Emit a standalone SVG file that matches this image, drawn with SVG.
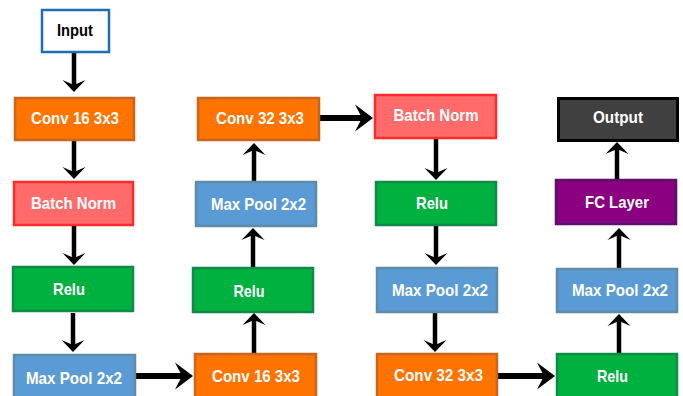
<svg xmlns="http://www.w3.org/2000/svg" width="683" height="396" viewBox="0 0 683 396">
<defs>
<style>
.box{stroke-width:2.5}
.conv{fill:#FF7300;stroke:#C8661E}
.bn{fill:#FF6B6B;stroke:#FF2B2B}
.relu{fill:#00B140;stroke:#108A48}
.pool{fill:#5B9BD5;stroke:#5D8BA8}
.fc{fill:#8B0080;stroke:#5B1070}
.out{fill:#404040;stroke:#000;stroke-width:3}
.in{fill:#fff;stroke:#1F6EB5}
text{font-family:"Liberation Sans",Arial,sans-serif;font-weight:bold;font-size:17px;fill:#fff;text-anchor:middle}
.dark{fill:#000}
.v{stroke:#000;stroke-width:4.5;fill:none;marker-end:url(#hv)}
.h{stroke:#000;stroke-width:6;fill:none;marker-end:url(#hh)}
</style>
<marker id="hv" markerUnits="userSpaceOnUse" viewBox="0 -12 13 24" markerWidth="13" markerHeight="24" refX="5" refY="0" orient="auto">
<path d="M0,-11.5 L12,0 L0,11.5 L5,0 Z" fill="#000"/>
</marker>
<marker id="hh" markerUnits="userSpaceOnUse" viewBox="0 -14 19 28" markerWidth="19" markerHeight="28" refX="7" refY="0" orient="auto">
<path d="M0,-13.5 L18,0 L0,13.5 L7,0 Z" fill="#000"/>
</marker>
</defs>
<g id="connectors">
<line class="v" x1="74" y1="53" x2="74" y2="85"/>
<line class="v" x1="74" y1="141" x2="74" y2="172"/>
<line class="v" x1="74" y1="226" x2="74" y2="258"/>
<line class="v" x1="73" y1="313" x2="73" y2="345"/>
<line class="h" x1="136" y1="376" x2="182" y2="376"/>
<line class="v" x1="254" y1="353" x2="254" y2="320"/>
<line class="v" x1="253" y1="267" x2="253" y2="235"/>
<line class="v" x1="254" y1="181" x2="254" y2="150"/>
<line class="h" x1="320" y1="118" x2="362" y2="118"/>
<line class="v" x1="436" y1="139" x2="436" y2="173"/>
<line class="v" x1="436" y1="226" x2="436" y2="258"/>
<line class="v" x1="435" y1="313" x2="435" y2="345"/>
<line class="h" x1="498" y1="376" x2="544" y2="376"/>
<line class="v" x1="619" y1="353" x2="619" y2="321"/>
<line class="v" x1="619" y1="268" x2="619" y2="235"/>
<line class="v" x1="617" y1="179" x2="617" y2="149"/>
</g>
<g id="input"><rect class="box in" x="42" y="10" width="67" height="42"/><text class="dark" x="75" y="36" textLength="36" lengthAdjust="spacingAndGlyphs">Input</text></g>
<g id="conv16a"><rect class="box conv" x="15" y="98" width="119" height="42"/><text x="75" y="124" textLength="88" lengthAdjust="spacingAndGlyphs">Conv 16 3x3</text></g>
<g id="bn1"><rect class="box bn" x="14" y="182" width="119" height="43"/><text x="73.5" y="208.5" textLength="85" lengthAdjust="spacingAndGlyphs">Batch Norm</text></g>
<g id="relu1"><rect class="box relu" x="13" y="267" width="120" height="44"/><text x="69" y="295" textLength="32" lengthAdjust="spacingAndGlyphs">Relu</text></g>
<g id="pool1"><rect class="box pool" x="14" y="355" width="121" height="44"/><text x="74" y="383.5" textLength="96" lengthAdjust="spacingAndGlyphs">Max Pool 2x2</text></g>
<g id="conv16b"><rect class="box conv" x="195" y="354" width="121" height="44"/><text x="256" y="382" textLength="88" lengthAdjust="spacingAndGlyphs">Conv 16 3x3</text></g>
<g id="relu2"><rect class="box relu" x="193" y="268" width="120" height="44"/><text x="249" y="297" textLength="31" lengthAdjust="spacingAndGlyphs">Relu</text></g>
<g id="pool2"><rect class="box pool" x="196" y="182" width="120" height="44"/><text x="258.5" y="210" textLength="95" lengthAdjust="spacingAndGlyphs">Max Pool 2x2</text></g>
<g id="conv32a"><rect class="box conv" x="198" y="98" width="121" height="42"/><text x="260" y="124" textLength="88" lengthAdjust="spacingAndGlyphs">Conv 32 3x3</text></g>
<g id="bn2"><rect class="box bn" x="375" y="95" width="121" height="43"/><text x="436" y="121" textLength="85" lengthAdjust="spacingAndGlyphs">Batch Norm</text></g>
<g id="relu3"><rect class="box relu" x="376" y="182" width="120" height="43"/><text x="432" y="209" textLength="32" lengthAdjust="spacingAndGlyphs">Relu</text></g>
<g id="pool3"><rect class="box pool" x="377" y="268" width="120" height="44"/><text x="440" y="295.5" textLength="96" lengthAdjust="spacingAndGlyphs">Max Pool 2x2</text></g>
<g id="conv32b"><rect class="box conv" x="377" y="354" width="120" height="44"/><text x="438.5" y="381" textLength="89" lengthAdjust="spacingAndGlyphs">Conv 32 3x3</text></g>
<g id="relu4"><rect class="box relu" x="557" y="354" width="120" height="44"/><text x="612.5" y="381.5" textLength="31" lengthAdjust="spacingAndGlyphs">Relu</text></g>
<g id="pool4"><rect class="box pool" x="557" y="269" width="120" height="43"/><text x="620" y="296" textLength="96" lengthAdjust="spacingAndGlyphs">Max Pool 2x2</text></g>
<g id="fc"><rect class="box fc" x="556" y="180" width="120" height="44"/><text x="617" y="208" textLength="64" lengthAdjust="spacingAndGlyphs">FC Layer</text></g>
<g id="output"><rect class="box out" x="558.5" y="98.5" width="119" height="42"/><text x="618" y="123" textLength="50" lengthAdjust="spacingAndGlyphs">Output</text></g>
</svg>
